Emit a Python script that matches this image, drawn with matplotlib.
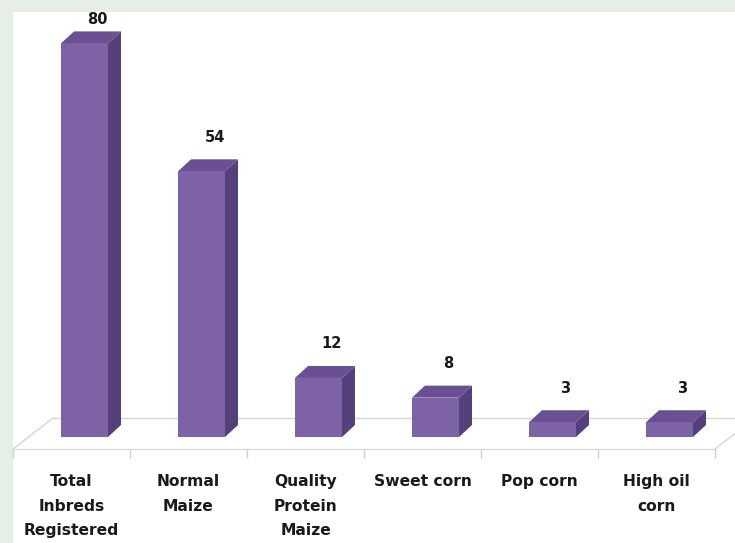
import numpy as np
import matplotlib
matplotlib.use("Agg")
import matplotlib.pyplot as plt
from matplotlib.patches import Polygon, Rectangle

categories = ["Total\nInbreds\nRegistered", "Normal\nMaize", "Quality\nProtein\nMaize",
              "Sweet corn", "Pop corn", "High oil\ncorn"]
values = [80, 54, 12, 8, 3, 3]

W, H = 735, 543
px_x = 117.0   # pixels per category
px_y = 4.92    # pixels per unit of value

front_col = "#7e62a8"
side_col = "#56407b"
top_col = "#6a5092"

fig = plt.figure(figsize=(W / 100, H / 100), dpi=100)
fig.patch.set_facecolor("#e5eee7")

# plot area (white) starts at 13px from left and 12px from top
ax = fig.add_axes([13 / W, 0, (W - 13) / W, (H - 12) / H])
ax.set_facecolor("white")
ax.set_xlim(-0.5, -0.5 + (W - 13) / px_x)
ax.set_ylim(-(H - 437) / px_y, (437 - 12) / px_y)

# 3d offsets in data units
bdx, bdy = 13 / px_x, 12 / px_y
fdx = 40 / px_x
f_front, f_back = -12 / px_y, 19 / px_y
n = len(categories)

# floor
floor_col = "#d6d6d6"
ax.plot([-0.5 + fdx, n - 0.5 + fdx], [f_back, f_back], color=floor_col, lw=1, zorder=1, clip_on=True)
ax.plot([-0.5, -0.5 + fdx], [f_front, f_back], color=floor_col, lw=1, zorder=1)
ax.plot([n - 0.5, n - 0.5 + fdx], [f_front, f_back], color=floor_col, lw=1, zorder=1)

# bars
bw = 47 / px_x
shift = 13 / px_x
for i, v in enumerate(values):
    x0 = i + shift - bw / 2
    x1 = x0 + bw
    ax.add_patch(Polygon([(x1, 0), (x1 + bdx, bdy), (x1 + bdx, v + bdy), (x1, v)],
                         closed=True, fc=side_col, ec="none", zorder=3))
    ax.add_patch(Polygon([(x0, v), (x0 + bdx, v + bdy), (x1 + bdx, v + bdy), (x1, v)],
                         closed=True, fc=top_col, ec="none", zorder=3))
    ax.add_patch(Rectangle((x0, 0), bw, v, fc=front_col, ec="none", zorder=4))
    ly = min(v + bdy + 22 / px_y, (437 - 19) / px_y)
    ax.text(i + shift + bdx, ly, str(v), ha="center", va="center",
            fontsize=10.5, fontweight="bold", color="#1a1a1a", zorder=5)

# x axis as the front edge of the floor
for s in ["top", "right", "left"]:
    ax.spines[s].set_visible(False)
ax.spines["bottom"].set_position(("data", f_front))
ax.spines["bottom"].set_bounds(-0.5, n - 0.5)
ax.spines["bottom"].set_color(floor_col)
ax.spines["bottom"].set_zorder(1)
ax.set_yticks([])
ax.set_xticks(np.arange(n))
ax.set_xticklabels(categories, fontsize=11.2, fontweight="bold", linespacing=1.8, color="#1a1a1a")
ax.set_xticks(np.arange(n + 1) - 0.5, minor=True)
ax.tick_params(axis="x", which="major", length=0, pad=18)
ax.tick_params(axis="x", which="minor", length=6.5, color="#cfcfcf", width=1)

fig.savefig("out.png", dpi=100, facecolor=fig.get_facecolor())
